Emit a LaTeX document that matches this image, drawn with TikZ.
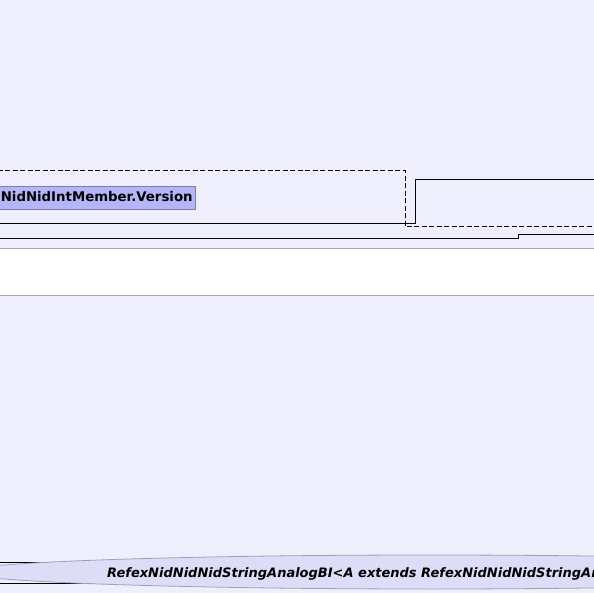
\documentclass[tikz,border=0pt]{standalone}
\usepackage{fontspec}
\newfontfamily\dejavu{DejaVu Sans}
\usetikzlibrary{shapes.geometric}
\definecolor{bg}{RGB}{238,238,252}
\definecolor{bandline}{RGB}{165,165,178}
\definecolor{boxfill}{RGB}{181,181,248}
\definecolor{boxline}{RGB}{125,125,175}
\definecolor{ellfill}{RGB}{221,221,248}
\definecolor{ellline}{RGB}{160,160,178}
\tikzset{
  wire/.style={draw=black, line width=1pt},
  dashwire/.style={draw=black, line width=1pt, dash pattern=on 5pt off 2.5pt},
  classbox/.style={draw=boxline, fill=boxfill, line width=0.8pt, font=\dejavu\bfseries\fontsize{13.3}{15}\selectfont, inner xsep=2.7pt, inner ysep=0pt, text height=14.6pt, text depth=8pt},
  ellbox/.style={ellipse, draw=ellline, fill=ellfill, line width=0.8pt, inner sep=0pt},
  elltext/.style={font=\dejavu\bfseries\itshape\fontsize{13}{15}\selectfont, inner sep=0pt}
}
\begin{document}
\begin{tikzpicture}[x=1pt,y=-1pt]
\useasboundingbox (0,0) rectangle (594,593);
\clip (0,0) rectangle (594,593);
\fill[bg] (0,0) rectangle (594,593);
% white band
\node (band) [draw=bandline, fill=white, line width=0.8pt, minimum width=620pt, minimum height=47pt, inner sep=0pt, anchor=north west] at (-10,248) {};
% dashed frame edge
\coordinate (d0) at (-10,171);
\coordinate (d1) at (405,171);
\coordinate (d2) at (405,227);
\coordinate (d3) at (610,227);
\draw[dashwire] (d0) -- (d1) -- (d2) -- (d3);
% solid connector 1
\coordinate (s0) at (-10,224);
\coordinate (s1) at (415,224);
\coordinate (s2) at (415,180);
\coordinate (s3) at (610,180);
\draw[wire] (s0) -- (s1) -- (s2) -- (s3);
% solid connector 2
\coordinate (t0) at (-10,239);
\coordinate (t1) at (518,239);
\coordinate (t2) at (518,235);
\coordinate (t3) at (610,235);
\draw[wire] (t0) -- (t1) -- (t2) -- (t3);
% class box
\node (ver) [classbox, anchor=base east] at (195.7,201.3) {dNidNidIntMember.Version};
% lines behind ellipse
\coordinate (b0) at (-10,562);
\coordinate (b1) at (250,562);
\coordinate (c0) at (-10,583);
\coordinate (c1) at (250,583);
\draw[wire] (b0) -- (b1);
\draw[wire] (c0) -- (c1);
% ellipse
\node (ell) [ellbox, minimum width=934pt, minimum height=34pt] at (430,572) {};
\node (elltxt) [elltext, anchor=base west] at (107,577) {RefexNidNidNidStringAnalogBI<A extends RefexNidNidNidStringAn};
\end{tikzpicture}
\end{document}
